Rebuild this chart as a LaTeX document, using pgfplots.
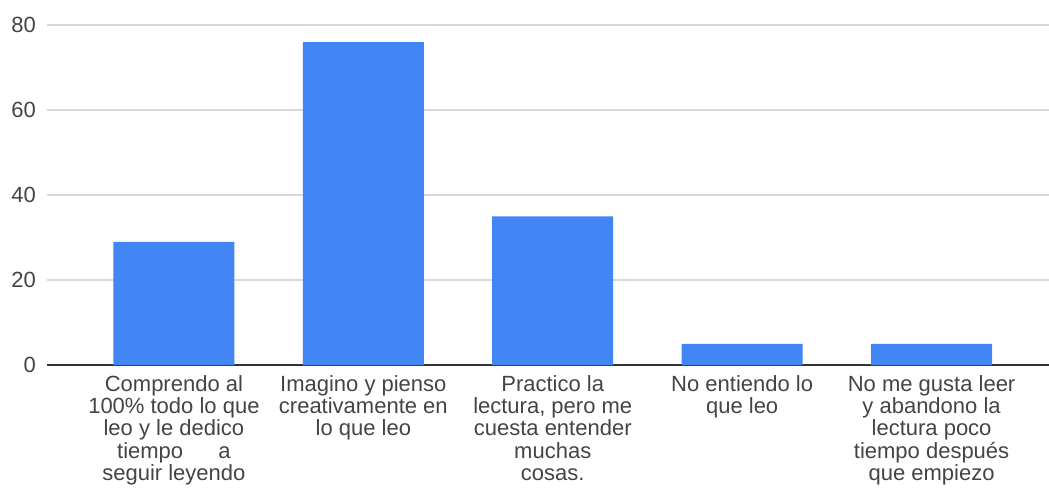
\documentclass[border=0pt]{standalone}
\usepackage{pgfplots}
\pgfplotsset{compat=1.18}
\usepackage{fontspec}
\setmainfont{Liberation Sans}
\definecolor{barblue}{HTML}{4285F4}
\definecolor{gridgray}{HTML}{D9D9D9}
\definecolor{txtgray}{HTML}{444444}
\definecolor{axisgray}{HTML}{333333}
\begin{document}
\begin{tikzpicture}
\path[use as bounding box] (-23.5pt,-62pt) rectangle (501pt,182.5pt);
\begin{axis}[
  at={(0,0)}, anchor=south west,
  scale only axis,
  width=501pt, height=170pt,
  ymin=0, ymax=80,
  xmin=-0.67, xmax=4.62,
  ytick={0,20,40,60,80},
  xtick=data,
  xticklabels={
    {Comprendo al\\100\% todo lo que\\leo y le dedico\\tiempo\hspace{1.6em}a\\seguir leyendo},
    {Imagino y pienso\\creativamente en\\lo que leo},
    {Practico la\\lectura, pero me\\cuesta entender\\muchas\\cosas.},
    {No entiendo lo\\que leo},
    {No me gusta leer\\y abandono la\\lectura poco\\tiempo después\\que empiezo}},
  axis x line*=bottom,
  axis y line*=left,
  y axis line style={draw=none},
  x axis line style={draw=axisgray, line width=0.6pt},
  ymajorgrids,
  grid style={draw=gridgray, line width=0.7pt},
  major tick length=0pt,
  tick style={draw=none},
  /pgf/number format/assume math mode=true,
  yticklabel style={font=\fontsize{11}{12}\selectfont, text=txtgray, anchor=east, xshift=-2pt},
  xticklabel style={font=\fontsize{11}{11.15}\selectfont, text=txtgray, align=center, anchor=north, yshift=-4pt, inner sep=1pt},
  clip=false,
]
\addplot[ybar, bar width=60.5pt, fill=barblue, draw=none] coordinates {
  (0,29) (1,76) (2,35) (3,5) (4,5)
};
\end{axis}
\end{tikzpicture}
\end{document}
